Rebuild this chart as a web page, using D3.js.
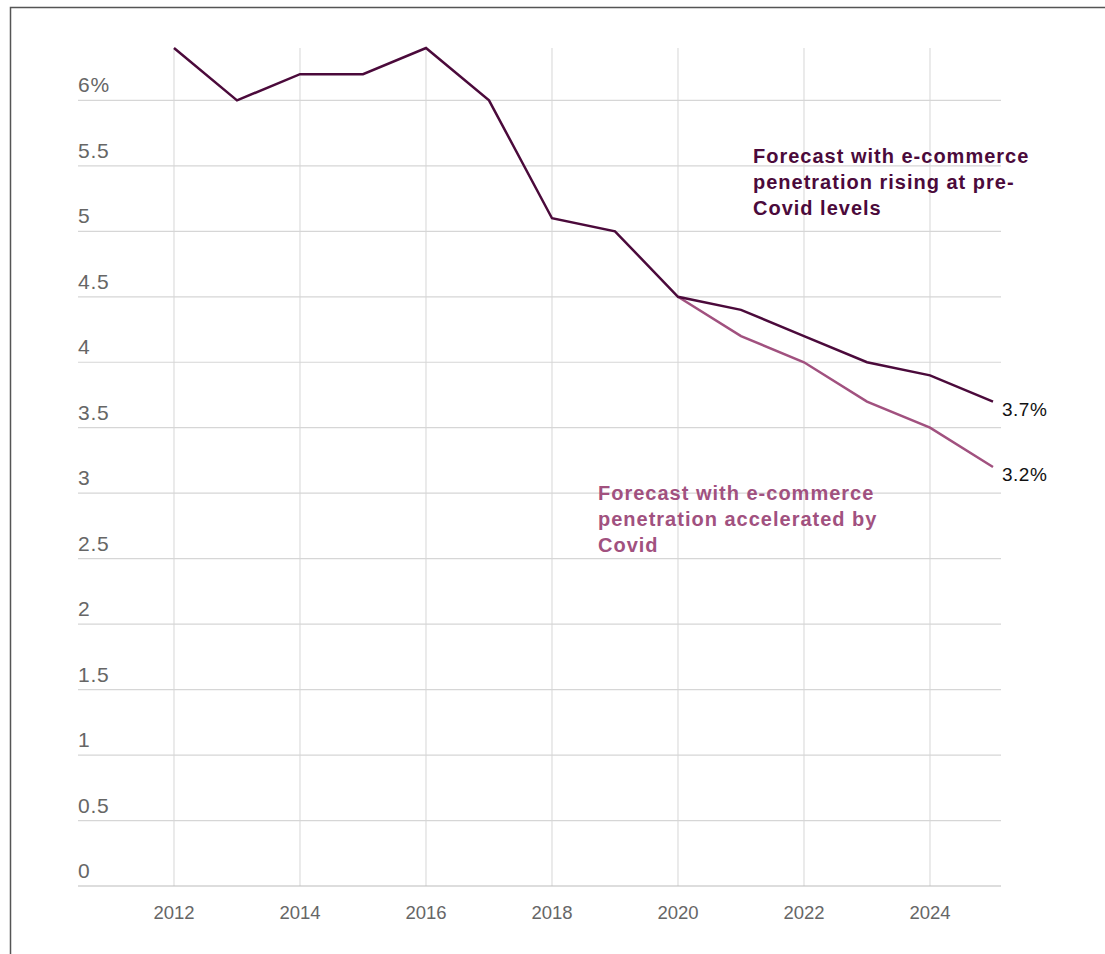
<!DOCTYPE html>
<html>
<head>
<meta charset="utf-8">
<script src="https://cdn.jsdelivr.net/npm/d3@7"></script>
<style>
  body { margin: 0; background: #fff; }
  svg { display: block; font-family: "Liberation Sans", Arial, sans-serif; }
</style>
</head>
<body>
<div id="chart"></div>
<script>
const years = [2012, 2013, 2014, 2015, 2016, 2017, 2018, 2019, 2020, 2021, 2022, 2023, 2024, 2025]
const preCovid = [6.4, 6.0, 6.2, 6.2, 6.4, 6.0, 5.1, 5.0, 4.5, 4.4, 4.2, 4.0, 3.9, 3.7]
const covidYears = [2020, 2021, 2022, 2023, 2024, 2025]
const covidAccel = [4.5, 4.2, 4.0, 3.7, 3.5, 3.2]
const yTicks = [0, 0.5, 1, 1.5, 2, 2.5, 3, 3.5, 4, 4.5, 5, 5.5, 6]
const xTicks = [2012, 2014, 2016, 2018, 2020, 2022, 2024]
const darkLabel = ["Forecast with e-commerce", "penetration rising at pre-", "Covid levels"]
const lightLabel = ["Forecast with e-commerce", "penetration accelerated by", "Covid"]

const darkColor = "#4b0a3b"
const lightColor = "#a1517f"

const canvas = { width: 1105, height: 954, gridLeft: 78, gridRight: 1001, top: 48, bottom: 886 }

const svg = d3.select("#chart").append("svg")
  .attr("width", canvas.width).attr("height", canvas.height)

// frame
svg.append("path").attr("d", `M10.5,${canvas.height} V7.5 H${canvas.width}`)
  .attr("fill", "none").attr("stroke", "#555").attr("stroke-width", 1.5)

const x = d3.scaleLinear().domain([2012, 2025]).range([174, 993])
const y = d3.scaleLinear().domain([0, 6.4]).range([canvas.bottom, canvas.top])

// vertical grid
svg.append("g").selectAll("line").data(xTicks).join("line")
  .attr("x1", d => x(d)).attr("x2", d => x(d))
  .attr("y1", y(6.4)).attr("y2", y(0))
  .attr("stroke", "#ddd").attr("stroke-width", 1.2)

// horizontal grid
svg.append("g").selectAll("line").data(yTicks).join("line")
  .attr("x1", canvas.gridLeft).attr("x2", canvas.gridRight)
  .attr("y1", d => y(d)).attr("y2", d => y(d))
  .attr("stroke", d => d === 0 ? "#bbb" : "#d6d6d6").attr("stroke-width", 1.2)

// y labels
svg.append("g").selectAll("text").data(yTicks).join("text")
  .attr("x", canvas.gridLeft).attr("y", d => y(d) - 8)
  .attr("fill", "#666").attr("font-size", 21).attr("letter-spacing", 0.8)
  .text(d => d === 6 ? "6%" : d)

// x labels
svg.append("g").selectAll("text").data(xTicks).join("text")
  .attr("x", d => x(d)).attr("y", 919)
  .attr("text-anchor", "middle").attr("fill", "#666").attr("font-size", 18.5)
  .text(d => d)

const line = d3.line().x(d => x(d[0])).y(d => y(d[1]))

svg.append("path").datum(d3.zip(covidYears, covidAccel))
  .attr("fill", "none").attr("stroke", lightColor).attr("stroke-width", 2.5)
  .attr("d", line)

svg.append("path").datum(d3.zip(years, preCovid))
  .attr("fill", "none").attr("stroke", darkColor).attr("stroke-width", 2.5)
  .attr("d", line)

// end labels
svg.append("text").attr("x", x(2025) + 9).attr("y", y(preCovid[preCovid.length - 1]) + 14)
  .attr("font-size", 19).attr("letter-spacing", 0.5).attr("fill", "#111")
  .text(preCovid[preCovid.length - 1] + "%")
svg.append("text").attr("x", x(2025) + 9).attr("y", y(covidAccel[covidAccel.length - 1]) + 14)
  .attr("font-size", 19).attr("letter-spacing", 0.5).attr("fill", "#111")
  .text(covidAccel[covidAccel.length - 1] + "%")

// annotations
svg.append("text").attr("x", 753).attr("y", 163)
  .attr("font-size", 20).attr("font-weight", "bold").attr("letter-spacing", 1).attr("fill", darkColor)
  .selectAll("tspan").data(darkLabel).join("tspan")
  .attr("x", 753).attr("dy", (d, i) => i === 0 ? 0 : 26).text(d => d)

svg.append("text").attr("x", 598).attr("y", 500)
  .attr("font-size", 20).attr("font-weight", "bold").attr("letter-spacing", 1).attr("fill", lightColor)
  .selectAll("tspan").data(lightLabel).join("tspan")
  .attr("x", 598).attr("dy", (d, i) => i === 0 ? 0 : 26).text(d => d)
</script>
</body>
</html>
